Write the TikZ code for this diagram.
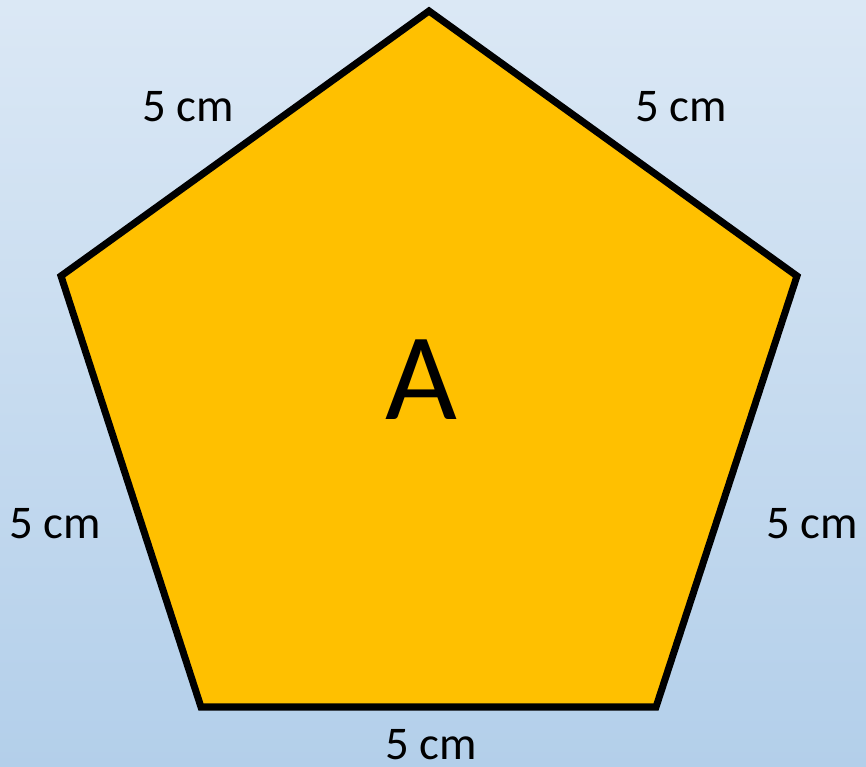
\documentclass[tikz,border=0pt]{standalone}
\usepackage{fontspec}
\setmainfont{Carlito}
\usepackage{xcolor}
\usepackage{tikz}
\definecolor{skytop}{HTML}{DBE8F5}
\definecolor{skybot}{HTML}{B3CFEA}
\definecolor{gold}{HTML}{FFC000}

\begin{document}
\begin{tikzpicture}[
    x=0.03cm, y=-0.03cm,
    side/.style={font=\fontsize{40}{44}\selectfont, inner sep=0pt},
    big/.style={font=\fontsize{106}{110}\selectfont, inner sep=0pt}
]
\shade[top color=skytop, bottom color=skybot] (0,0) rectangle (866,767);
\useasboundingbox (0,0) rectangle (866,767);
\coordinate (top) at (429,11);
\coordinate (right) at (797,276);
\coordinate (br) at (656,707);
\coordinate (bl) at (201,707);
\coordinate (left) at (61,276);
\draw[line width=6pt, fill=gold, line join=miter] (top) -- (right) -- (br) -- (bl) -- (left) -- cycle;
\node[big] (name) at (421,380) {A};
\node[side] (tl) at (188,107) {5 cm};
\node[side] (tr) at (681,107) {5 cm};
\node[side] (ml) at (55,524) {5 cm};
\node[side] (mr) at (812,524) {5 cm};
\node[side] (bot) at (431,745) {5 cm};
\end{tikzpicture}
\end{document}
